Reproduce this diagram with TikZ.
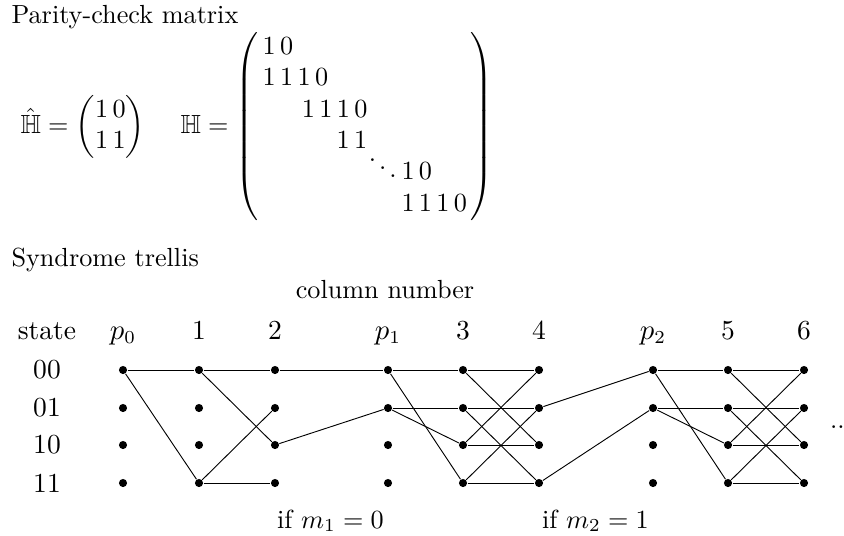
\documentclass[tikz,border=0pt]{standalone}
\usepackage{amsmath}
\usepackage{amssymb}
\tikzset{
  dotnode/.style={circle, fill=black, inner sep=0pt, minimum size=3.1pt},
  tedge/.style={line width=0.35pt, black},
  lbl/.style={inner sep=0pt, anchor=base, font=\fontsize{10.5}{12}\selectfont},
  rowlbl/.style={inner sep=0pt, anchor=center, font=\fontsize{10.5}{12}\selectfont},
  ttl/.style={inner sep=0pt, anchor=base west},
}
\begin{document}
\begin{tikzpicture}[x=0.3817pt, y=-0.3817pt]
\useasboundingbox (0,0) rectangle (844,535);
% ---------- parity-check matrix ----------
\node[ttl] (t1) at (11,23) {Parity-check matrix};
\node[ttl] (hhat) at (20,133) {$\hat{\mathbb{H}} = \begin{pmatrix}1\,0\\1\,1\end{pmatrix}$};
\node[ttl] (hbig) at (180,133) {$\mathbb{H} = \left(\begin{array}{@{\hspace{1.5pt}}l@{\hspace{1.5pt}}}
1\,0\\
1\,1\,1\,0\\
\hspace{15pt}1\,1\,1\,0\\
\hspace{28.2pt}1\,1\\
\rlap{$\hspace{40pt}\smash{\ddots}$}\hspace{53pt}1\,0\\
\hspace{53pt}1\,1\,1\,0
\end{array}\right)$};
% ---------- syndrome trellis ----------
\node[ttl] (t2) at (11,266) {Syndrome trellis};
\node[inner sep=0pt, anchor=base] (colnum) at (385,298) {column number};
\node[lbl] (hstate) at (47,339) {state};
\foreach \x/\t [count=\i from 0] in {123/$p_0$,199/1,275/2,388/$p_1$,463/3,539/4,653/$p_2$,728/5,804/6}{
  \node[lbl] (h\i) at (\x,339) {\t};
}
\foreach \y/\t [count=\j from 0] in {370/00,408/01,445/10,483/11}{
  \node[rowlbl] (s\j) at (47,\y) {\t};
}
\foreach \x [count=\i from 0] in {123,199,275,388,463,539,653,728,804}{
  \foreach \y [count=\j from 0] in {370,408,445,483}{
    \node[dotnode] (d\i\j) at (\x,\y) {};
  }
}
\foreach \a/\b in {
  d00/d10, d00/d13,
  d10/d20, d10/d22, d13/d21, d13/d23,
  d20/d30, d22/d31,
  d30/d40, d30/d43, d31/d41, d31/d42,
  d40/d50, d40/d52, d41/d51, d41/d53, d42/d50, d42/d52, d43/d51, d43/d53,
  d51/d60, d53/d61,
  d60/d70, d60/d73, d61/d71, d61/d72,
  d70/d80, d70/d82, d71/d81, d71/d83, d72/d80, d72/d82, d73/d81, d73/d83}{
  \draw[tedge] (\a) -- (\b);
}
\node[ttl] (if1) at (276.5,528) {if $m_1 = 0$};
\node[ttl] (if2) at (541.5,528) {if $m_2 = 1$};
\node[ttl] (more) at (829.5,428.5) {...};
\end{tikzpicture}
\end{document}
